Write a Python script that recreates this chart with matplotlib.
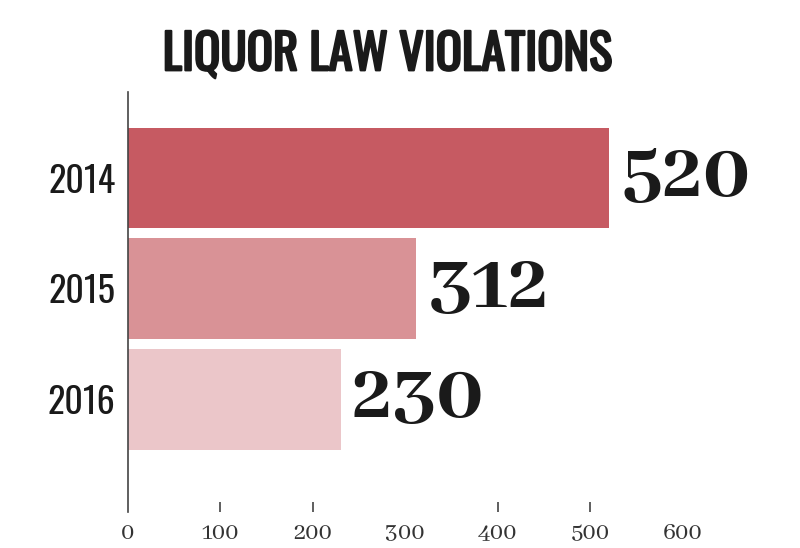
import matplotlib
matplotlib.use("Agg")
import matplotlib.pyplot as plt
import matplotlib.patheffects as pe

# ── Data ─────────────────────────────────────────────────────────
YEARS = ["2014", "2015", "2016"]
VIOLATIONS = [520, 312, 230]
BAR_COLORS = ["#C65A62", "#D99296", "#EBC6C9"]
X_TICKS = [0, 100, 200, 300, 400, 500, 600]
TICK_MARKS = [100, 200, 400, 500]

COND = ["Oswald", "DejaVu Sans"]
SERIF_BOLD = ["Abhaya Libre ExtraBold", "DejaVu Serif"]
SERIF = ["Abhaya Libre", "DejaVu Serif"]
INK = "#1a1a1a"

fig = plt.figure(figsize=(8, 5.48), dpi=100)
ax = fig.add_axes([0.16, 0.066, 0.751, 0.766])

y = list(range(len(YEARS)))
ax.barh(y, VIOLATIONS, height=0.91, color=BAR_COLORS)

for yi, v in zip(y, VIOLATIONS):
    ax.annotate(str(v), (v, yi), xytext=(8, -13), textcoords="offset points",
                ha="left", va="baseline", fontsize=61,
                family=SERIF_BOLD, color=INK)

ax.set_xlim(0, 650)
ax.set_ylim(3.016, -0.777)

ax.set_yticks(y)
ax.set_yticklabels(YEARS, family=COND, fontsize=26, color=INK)
ax.tick_params(axis="y", length=0, pad=9)

# labels on every hundred, short marks only on some of them
ax.xaxis.remove_overlapping_locs = False
ax.set_xticks(X_TICKS)
ax.set_xticklabels([str(t) for t in X_TICKS], family=SERIF, fontsize=19, color="#333333")
ax.tick_params(axis="x", which="major", length=0, pad=8)
ax.set_xticks(TICK_MARKS, minor=True)
ax.tick_params(axis="x", which="minor", direction="in", length=7, width=1.1, color="#333333")

for s in ["top", "right", "bottom"]:
    ax.spines[s].set_visible(False)
ax.spines["left"].set_color("#444444")
ax.spines["left"].set_linewidth(1.2)

fig.text(0.484, 0.900, "LIQUOR LAW VIOLATIONS", ha="center", va="center",
         family=COND, fontsize=35, color=INK,
         path_effects=[pe.withStroke(linewidth=1.6, foreground=INK)])

fig.savefig("out.png", dpi=100)
